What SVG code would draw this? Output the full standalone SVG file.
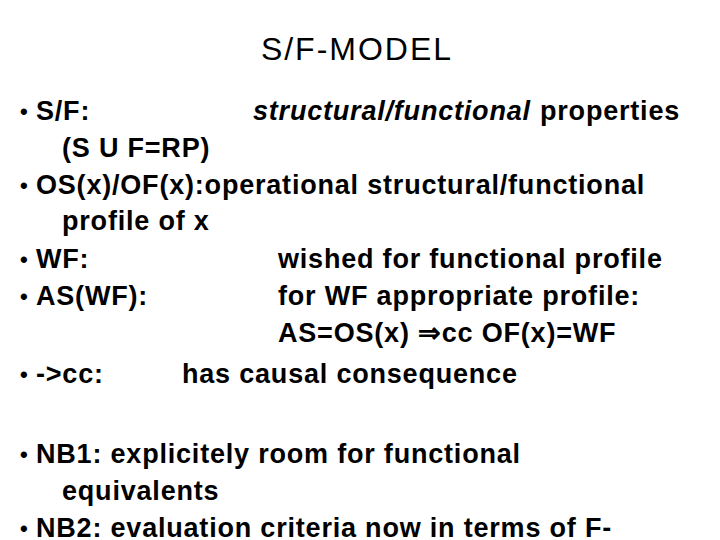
<svg xmlns="http://www.w3.org/2000/svg" width="720" height="540" viewBox="0 0 720 540">
<style>
.t{font-family:"Liberation Sans",Arial,sans-serif;font-size:27px;font-weight:bold;letter-spacing:0.8px;fill:#000}
.b{font-family:"Liberation Sans",Arial,sans-serif;font-size:22px;font-weight:bold;fill:#000}
.h{font-family:"Liberation Sans",Arial,sans-serif;font-size:32px;letter-spacing:2px;fill:#000}
.i{font-style:italic}
</style>
<rect width="720" height="540" fill="#fff"/>
<g id="title"><text class="h" x="357" y="60" text-anchor="middle">S/F-MODEL</text></g>
<g id="bullets">
<text class="b" x="20" y="119">•</text><text class="t" x="36" y="120">S/F:</text><text class="t i" x="253" y="120">structural/functional</text><text class="t" x="540" y="120">properties</text>
<text class="t" x="62" y="157">(S U F=RP)</text>
<text class="b" x="20" y="193">•</text><text class="t" x="36" y="194">OS(x)/OF(x):operational structural/functional</text>
<text class="t" x="62" y="230">profile of x</text>
<text class="b" x="20" y="267">•</text><text class="t" x="36" y="268">WF:</text><text class="t" x="278" y="268">wished for functional profile</text>
<text class="b" x="20" y="304">•</text><text class="t" x="36" y="305">AS(WF):</text><text class="t" x="278" y="305">for WF appropriate profile:</text>
<text class="t" x="278" y="342">AS=OS(x) ⇒cc OF(x)=WF</text>
<text class="b" x="20" y="382">•</text><text class="t" x="36" y="383">-&gt;cc:</text><text class="t" x="182" y="383">has causal consequence</text>
<text class="b" x="20" y="462">•</text><text class="t" x="36" y="463">NB1: explicitely room for functional</text>
<text class="t" x="62" y="500">equivalents</text>
<text class="b" x="20" y="536">•</text><text class="t" x="36" y="537">NB2: evaluation criteria now in terms of  F-</text>
</g>
</svg>
